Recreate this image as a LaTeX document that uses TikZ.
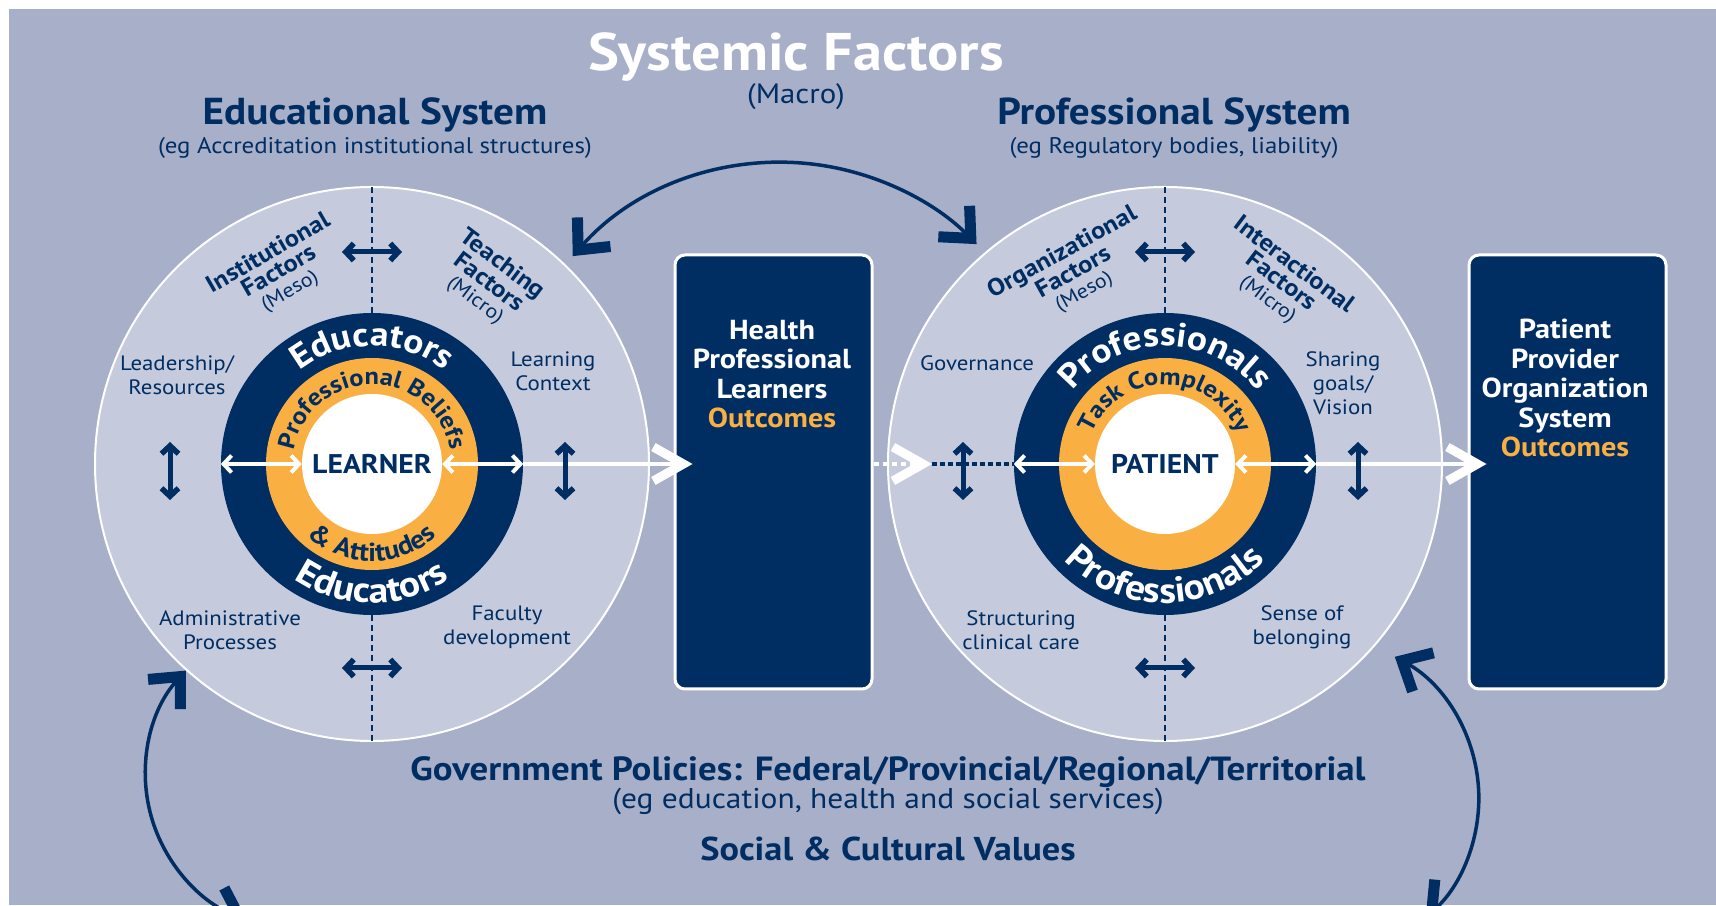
\documentclass[tikz,border=0pt]{standalone}
\usepackage{fontspec}
\setmainfont{PT Sans}[FakeStretch=1.1]
\usetikzlibrary{arrows.meta,decorations.text}

\definecolor{bgblue}{HTML}{A8AFC8}
\definecolor{ringfill}{HTML}{C5CBDC}
\definecolor{navy}{HTML}{002D62}
\definecolor{gold}{HTML}{F9AF41}

\newcommand\fsz[2]{\fontsize{#1}{#2}\selectfont}
\newcommand\ringtop{\fsz{34}{34}\bfseries}
\newcommand\ringbottom{\fsz{36}{36}\bfseries}
\newcommand\goldtop{\fsz{24}{24}\bfseries}
\newcommand\goldbottom{\fsz{26}{26}\bfseries}

\tikzset{
  bigbarb/.tip={Straight Barb[sharp, length=24pt, width=44pt, line width=11pt]},
  smallbarb/.tip={Straight Barb[sharp, length=8pt, width=17pt, line width=5.5pt]},
  whitebarb/.tip={Straight Barb[sharp, length=8pt, width=17pt, line width=4pt]},
  gatebarb/.tip={Straight Barb[sharp, length=30pt, width=34pt, line width=9pt]},
  systemarc/.style={draw=navy, line width=3.5pt, bigbarb-bigbarb},
  navytwo/.style={draw=navy, line width=5pt, smallbarb-smallbarb},
  whitetwo/.style={draw=white, line width=4pt, whitebarb-whitebarb},
  whiteflow/.style={draw=white, line width=4.5pt, -gatebarb},
  divider/.style={draw=navy, line width=1.3pt, dash pattern=on 6pt off 4pt},
  outerring/.style={circle, inner sep=0, minimum size=554pt, fill=ringfill, draw=white, line width=2pt},
  navyring/.style={circle, inner sep=0, minimum size=302pt, fill=navy},
  goldring/.style={circle, inner sep=0, minimum size=212pt, fill=gold},
  core/.style={circle, inner sep=0, minimum size=140pt, fill=white, text=navy, font=\fsz{27}{27}\bfseries},
  outbox/.style={rectangle, inner sep=0, minimum width=197pt, minimum height=434pt, fill=navy, draw=white, line width=3pt, rounded corners=10pt},
  boxtext/.style={text=white, align=center, font=\fsz{27.5}{29.5}\bfseries},
  headline/.style={text=navy, font=\fsz{37.5}{40}\bfseries},
  subline/.style={text=navy, font=\fsz{22.6}{26}},
  sidelbl/.style={text=navy, align=center, inner sep=0, font=\fsz{20.8}{24}},
  factor/.style={text=navy, align=center, inner sep=0, font=\fsz{24}{21}\bfseries},
  factorsub/.style={font=\fsz{20}{21}\mdseries},
}

\begin{document}
\begin{tikzpicture}[x=1pt, y=1pt]
\useasboundingbox (0,0) rectangle (1716,905);
\clip (0,0) rectangle (1716,905);
\fill[white] (0,0) rectangle (1716,905);
\fill[bgblue] (9,0) rectangle (1716,896);

% the two systems
\node[outerring] (eduOuter) at (372,441) {};
\node[navyring] (eduNavy) at (eduOuter.center) {};
\node[goldring] (eduGold) at (eduOuter.center) {};
\node[core] (learner) at (eduOuter.center) {LEARNER};

\node[outerring] (proOuter) at (1165,441) {};
\node[navyring] (proNavy) at (proOuter.center) {};
\node[goldring] (proGold) at (proOuter.center) {};
\node[core] (patient) at (proOuter.center) {PATIENT};

% outcome boxes
\node[outbox] (hplBox) at (773.5,433) {};
\node[boxtext] (hplText) at (772,531) {Health\\Professional\\Learners\\\textcolor{gold}{Outcomes}};
\node[outbox] (ppoBox) at (1567.5,433) {};
\node[boxtext] (ppoText) at (1565,517) {Patient\\Provider\\Organization\\System\\\textcolor{gold}{Outcomes}};

% headings
\node[text=white, font=\fsz{53}{56}\bfseries] (sysTitle) at (796,848) {Systemic Factors};
\node[text=navy, font=\fsz{28}{30}] (sysMacro) at (796,808) {(Macro)};
\node[headline] (eduTitle) at (375,790) {Educational System};
\node[subline] (eduSub) at (375,757) {(eg Accreditation institutional structures)};
\node[headline] (proTitle) at (1174,790) {Professional System};
\node[subline] (proSub) at (1174,757) {(eg Regulatory bodies, liability)};

\node[text=navy, font=\fsz{33.5}{36}\bfseries] (govPol) at (888,133) {Government Policies: Federal/Provincial/Regional/Territorial};
\node[text=navy, font=\fsz{28.6}{31}] (govSub) at (888,104) {(eg education, health and social services)};
\node[text=navy, font=\fsz{33}{36}\bfseries] (social) at (888,56) {Social \& Cultural Values};

% quadrant labels
\node[sidelbl] (lead) at (177,530) {Leadership/\\Resources};
\node[sidelbl] (lctx) at (553,534) {Learning\\Context};
\node[sidelbl] (admin) at (230,275) {Administrative\\Processes};
\node[sidelbl] (facdev) at (507,278) {Faculty\\development};
\node[sidelbl] (gov) at (977,542) {Governance};
\node[sidelbl] (share) at (1343,522) {Sharing\\goals/\\Vision};
\node[sidelbl] (struct) at (1021,275) {Structuring\\clinical care};
\node[sidelbl] (sense) at (1302,278) {Sense of\\belonging};

\node[factor, rotate=30] (instF) at (279,633) {Institutional\\Factors\\{\fsz{20}{21}\mdseries (Meso)}};
\node[factor, rotate=-37] (teachF) at (489,623) {Teaching\\Factors\\{\fsz{20}{21}\mdseries (Micro)}};
\node[factor, rotate=29] (orgF) at (1073,633) {Organizational\\Factors\\{\fsz{20}{21}\mdseries (Meso)}};
\node[factor, rotate=-37] (interF) at (1281,623) {Interactional\\Factors\\{\fsz{20}{21}\mdseries (Micro)}};

% words around the rings
\path[decorate, decoration={text along path, text align=center, text color=white, text={|\ringtop|Educators}}]
  (254,441) arc[start angle=180, end angle=0, radius=118];
\path[decorate, decoration={text along path, text align=center, text color=white, text={|\ringbottom|Educators}}]
  (233,441) arc[start angle=180, end angle=360, radius=139];
\path[decorate, decoration={text along path, text align=center, text color=navy, text={|\goldtop|Professional Beliefs}}]
  (292.5,441) arc[start angle=180, end angle=0, radius=79.5];
\path[decorate, decoration={text along path, text align=center, text color=navy, text={|\goldbottom|{\&} Attitudes}}]
  (275,441) arc[start angle=180, end angle=360, radius=97];

\path[decorate, decoration={text along path, text align=center, text color=white, text={|\ringtop|Professionals}}]
  (1047,441) arc[start angle=180, end angle=0, radius=118];
\path[decorate, decoration={text along path, text align=center, text color=white, text={|\ringbottom|Professionals}}]
  (1026,441) arc[start angle=180, end angle=360, radius=139];
\path[decorate, decoration={text along path, text align=center, text color=navy, text={|\goldtop|Task Complexity}}]
  (1085.5,441) arc[start angle=180, end angle=0, radius=79.5];

% flow towards the outcomes
\coordinate (hplIn) at ([xshift=19pt]hplBox.west);
\coordinate (ppoIn) at ([xshift=19pt]ppoBox.west);
\coordinate (gate) at (932,441);
\draw[whiteflow] (eduNavy.east) -- (eduNavy.east -| hplIn);
\draw[white, line width=4pt, dash pattern=on 5pt off 4pt, -gatebarb] (hplBox.east |- gate) -- (gate);
\draw[navy, line width=4pt, dash pattern=on 5pt off 3pt] (gate) -- (proNavy.west);
\draw[whiteflow] (proNavy.east) -- (proNavy.east -| ppoIn);

% arrows inside each system
\foreach \sys/\ring/\hub in {eduOuter/eduNavy/learner, proOuter/proNavy/patient} {
  \draw[divider] (\ring.north) -- (\sys.north);
  \draw[divider] (\ring.south) -- (\sys.south);
  \draw[whitetwo] (\ring.west) -- (\hub.west);
  \draw[whitetwo] (\hub.east) -- (\ring.east);
  \draw[navytwo] ([shift={(-30,212)}]\sys.center) -- ([shift={(30,212)}]\sys.center);
  \draw[navytwo] ([shift={(-30,-204)}]\sys.center) -- ([shift={(30,-204)}]\sys.center);
  \draw[navytwo] ([shift={(-202,-36)}]\sys.center) -- ([shift={(-202,22)}]\sys.center);
  \draw[navytwo] ([shift={(193,-36)}]\sys.center) -- ([shift={(193,22)}]\sys.center);
}

% links between the systems and the wider context
\draw[systemarc] ([shift={(46:11)}]eduOuter.46) arc[start angle=138.7, end angle=44.7, radius=276.2];
\draw[systemarc] (eduOuter.228) arc[start angle=137.5, end angle=250, radius=154.2];
\draw[systemarc] ([shift={(-40:22)}]proOuter.-40) arc[start angle=61.5, end angle=-48, radius=160.7];
\end{tikzpicture}
\end{document}
